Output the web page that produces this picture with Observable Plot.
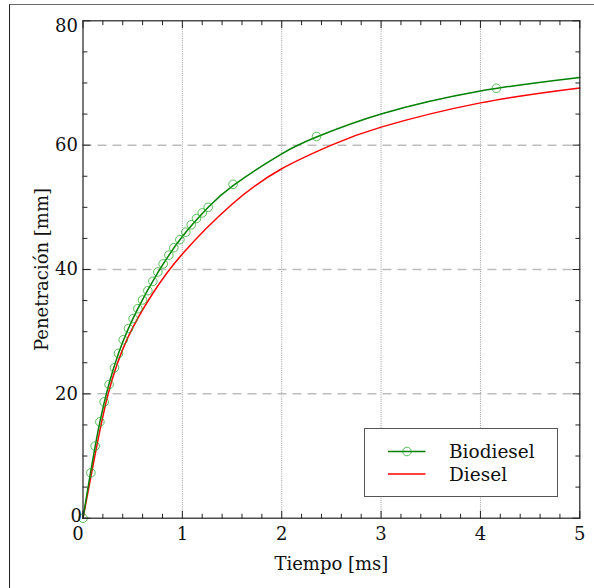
<!DOCTYPE html>
<html><head><meta charset="utf-8">
<script src="https://cdn.jsdelivr.net/npm/d3@7"></script>
<script src="https://cdn.jsdelivr.net/npm/@observablehq/plot@0.6"></script>
<style>
body{margin:0;background:#fff;overflow:hidden;width:594px;height:588px;position:relative;font-family:"DejaVu Serif",serif}
#frame{position:absolute;left:9px;top:4px;width:700px;height:700px;border-left:1.5px solid #222;border-top:1.5px solid #6a6a6a}
#chart{position:absolute;left:0;top:0}
#legend{position:absolute;left:364px;top:428px;width:192px;height:67px;border:1px solid #555;background:#fff}
</style></head><body>
<div id="frame"></div>
<div id="chart"></div>
<div id="legend"></div>
<script>
// Biodiesel measured points (markers)
const bioMarkT = [0,0.079,0.122,0.17,0.213,0.263,0.317,0.357,0.405,0.458,0.505,0.552,0.599,0.653,0.703,0.753,0.807,0.864,0.914,0.975,1.035,1.089,1.142,1.20,1.26,1.51,2.35,4.16];
const bioMarkP = [0,7.3,11.6,15.5,18.7,21.5,24.2,26.5,28.7,30.5,32.1,33.7,35.1,36.6,38.1,39.6,40.9,42.3,43.5,44.8,46.0,47.2,48.2,49.1,50.0,53.7,61.4,69.15];
// Biodiesel curve
const bioLineT = [0,0.17,0.357,0.552,0.753,1.0,1.26,1.51,2.0,2.35,3.0,4.0,5.0];
const bioLineP = [0,15.5,26.5,33.7,39.5,45.3,50.0,53.5,58.6,61.3,65.0,68.7,70.9];
// Diesel curve
const dieselT = [0,0.1,0.25,0.45,0.7,1.0,1.5,2.0,2.5,3.0,4.0,5.0];
const dieselP = [0,8.4,19.8,29.0,36.1,42.5,50.5,56.2,60.0,62.9,66.8,69.2];
// Axis ticks
const xMajor = [0,1,2,3,4,5];
const xMinor = [0.2,0.4,0.6,0.8,1.2,1.4,1.6,1.8,2.2,2.4,2.6,2.8,3.2,3.4,3.6,3.8,4.2,4.4,4.6,4.8];
const yMajor = [0,20,40,60,80];
const yMinor = [5,10,15,25,30,35,45,50,55,65,70,75];
const xGrid = [1,2,3,4];
const yGrid = [20,40,60];
const seriesNames = ["Biodiesel","Diesel"];

const bioMarks = bioMarkT.map((t,i)=>({t, p: bioMarkP[i]}));
const bioLine = bioLineT.map((t,i)=>({t, p: bioLineP[i]}));
const diesel = dieselT.map((t,i)=>({t, p: dieselP[i]}));

const tickShape = {draw(ctx, l){ ctx.moveTo(0,0); ctx.lineTo(0,-l); }};
const tk = (data, ch, frameAnchor, rotate, length) => Plot.vector(data, {
  [ch]: d=>d, frameAnchor, rotate, length, anchor:"start", shape: tickShape, stroke:"#222", strokeWidth:1
});

const plot = Plot.plot({
  width: 594, height: 588,
  marginLeft: 82.5, marginRight: 14.7, marginTop: 20.3, marginBottom: 70.3,
  style: {fontFamily: '"DejaVu Serif", serif', fontSize: "18px", color: "#111", background: "transparent", overflow: "visible"},
  x: {domain: [0,5]},
  y: {domain: [0,80]},
  marks: [
    Plot.ruleX(xGrid, {stroke: "#9a9a9a", strokeWidth: 1, strokeDasharray: "1,1.2"}),
    Plot.ruleY(yGrid, {stroke: "#bdbdbd", strokeWidth: 1.5, strokeDasharray: "9,6"}),
    Plot.line(diesel, {x:"t", y:"p", stroke:"#ff0000", strokeWidth:1.5, curve:"natural"}),
    Plot.line(bioLine, {x:"t", y:"p", stroke:"#008000", strokeWidth:1.5, curve:"natural"}),
    Plot.dot(bioMarks, {x:"t", y:"p", r:4.3, stroke:"#22aa22", strokeOpacity:0.75, strokeWidth:1, fill:"none"}),
    Plot.frame({stroke:"#222", strokeWidth:1.2}),
    tk(xMajor, "x", "bottom", 0, 7), tk(xMinor, "x", "bottom", 0, 4),
    tk(xMajor, "x", "top", 180, 7), tk(xMinor, "x", "top", 180, 4),
    tk(yMajor, "y", "left", 90, 7), tk(yMinor, "y", "left", 90, 4),
    tk(yMajor, "y", "right", -90, 7), tk(yMinor, "y", "right", -90, 4),
    Plot.axisX(xMajor.slice(1), {tickSize:0, tickPadding:9, label:null}),
    Plot.axisX([0], {tickSize:0, tickPadding:9, label:null, dx:-5}),
    Plot.axisX([], {tickSize:0, label:"Tiempo [ms]", labelAnchor:"center", labelOffset:52, labelArrow:"none"}),
    Plot.axisY(yMajor.slice(1,4), {tickSize:0, tickPadding:5, label:null}),
    Plot.axisY([0], {tickSize:0, tickPadding:5, label:null, dx:4, dy:-2}),
    Plot.axisY([80], {tickSize:0, tickPadding:5, label:null, dy:5}),
    Plot.axisY([], {tickSize:0, label:"Penetración [mm]", labelAnchor:"center", labelOffset:48, labelArrow:"none"})
  ]
});
document.getElementById("chart").appendChild(plot);

// Legend
const lg = d3.select("#legend").append("svg").attr("width",192).attr("height",67)
  .style("font-family",'"DejaVu Serif", serif').style("font-size","18.5px");
const colors = ["#008000","#ff0000"];
seriesNames.forEach((name,i)=>{
  const y = 22.5 + i*22.6;
  lg.append("line").attr("x1",23).attr("x2",60.5).attr("y1",y).attr("y2",y).attr("stroke",colors[i]).attr("stroke-width",1.5);
  if(i===0) lg.append("circle").attr("cx",42).attr("cy",y).attr("r",4.3).attr("fill","none").attr("stroke","#22aa22").attr("stroke-opacity",0.75);
  lg.append("text").attr("x",84).attr("y",y+6.5).attr("fill","#111").text(name);
});
</script>
</body></html>
